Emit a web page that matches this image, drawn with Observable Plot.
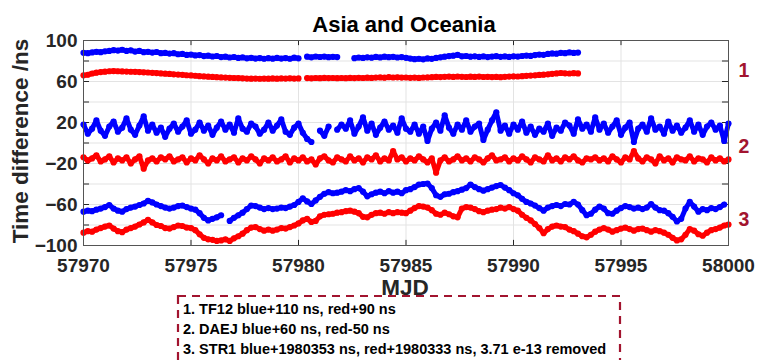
<!DOCTYPE html>
<html>
<head>
<meta charset="utf-8">
<script src="https://cdn.jsdelivr.net/npm/d3@7"></script>
<script src="https://cdn.jsdelivr.net/npm/@observablehq/plot@0.6"></script>
<style>
  html, body { margin: 0; padding: 0; background: #fff; }
  #chart { width: 758px; height: 360px; overflow: hidden; }
</style>
</head>
<body>
<div id="chart"></div>
<script>
// Time-transfer comparison, Asia and Oceania, MJD 57970–58000.
// Samples every 0.2 day starting at MJD 57970; null marks a missing sample.
const mjdStart = 57970;
const mjdStep = 0.2;

const xTickValues = [57970, 57975, 57980, 57985, 57990, 57995, 58000];
const yTickLabels = [-100, -60, -20, 20, 60, 100];
const yTickMarks = [-100, -80, -60, -40, -20, 0, 20, 40, 60, 80, 100];

const titleText = "Asia and Oceania";
const xLabel = "MJD";
const yLabel = "Time difference /ns";
const groupLabels = ["1", "2", "3"];
const noteLines = [
  "1. TF12 blue+110 ns, red+90 ns",
  "2. DAEJ blue+60 ns, red-50 ns",
  "3. STR1 blue+1980353 ns, red+1980333 ns, 3.71 e-13 removed"
];

// 1. TF12 (ends at MJD 57993)
const tf12Blue = [
  88, 87.6, 88.4, 89, 88.6, 89.4,
  89.8, 90.6, 90.2, 91, 89.8,
  90.4, 89.2, 89.8, 88.6, 89,
  88.2, 88.8, 87.6, 87.9, 87.2,
  87.6, 86.6, 86.9, 85.9, 86.3,
  85.4, 85.8, 84.8, 85.2, 84.4,
  84.9, 83.8, 84.2, 83.4, 83.9,
  83, 83.5, 82.6, 83.1, 82.4,
  82.9, 82.2, 82.8, 82.3, 83,
  82.4, 82.9, 82.2, 83.2, 82.6,
  null,
  84.2, 83.6, 84.4, 83.9,
  84.3, 83.7, 84.1, 83.8,
  null, null, null,
  82.8, 83.4, 83,
  83.6, 83.2, 84, 83.5, 84.2,
  83.7, 84.1, 83.4, 83.8, 83.1,
  82.4, 81.8, 82.2, 81.6, 82.5,
  82.1, 83, 83.6, 84.2, 84.8,
  85.2, 86, 84.6, 84.9, 84.2,
  84.6, 84, 84.5, 83.8, 84.3,
  84.7, 84.1, 84.5, 84, 84.6,
  84.3, 84.9, 85.3, 85, 85.8,
  86.3, 86, 86.9, 87.4, 87.1,
  88, 87.6, 88.4, 87.9, 88.2
];
const tf12Red = [
  66, 66.6, 67.8, 68.6, 69.2, 69.6,
  70, 70.2, 70, 69.8, 69.7,
  69.5, 69.4, 69.2, 69, 68.8,
  68.5, 68.2, 67.9, 67.6, 67.4,
  67, 66.8, 66.5, 66.1, 65.9,
  65.6, 65.2, 65, 64.7, 64.5,
  64.2, 64, 63.8, 63.6, 63.4,
  63.3, 63.1, 62.9, 62.8, 62.9,
  62.7, 62.9, 62.8, 63, 62.8,
  63, 62.9, 63.1, 62.9, 63,
  null,
  63.3, 63.1, 63.4, 63.2,
  63.5, 63.3, 63.4, 63.2,
  63.4, 63.2, 63.5,
  63.3, 63.6, 63.4,
  63.7, 63.5, 63.8, 64, 63.7,
  64.2, 63.9, 64.1, 63.8, 63.9,
  63.6, 63.8, 63.5, 63.9, 64,
  64.2, 64.5, 64.3, 64.6, 64.8,
  64.5, 64.9, 64.6, 64.4, 64.7,
  64.5, 64.8, 64.4, 64.6, 64.3,
  64.5, 64.2, 64.6, 64.8, 65,
  64.9, 65.2, 65.5, 65.8, 66,
  66.4, 66.7, 67, 67.5, 67.9,
  68.3, 68, 67.8, 68.1, 67.9
];

// 2. DAEJ
const daejBlue = [
  18, 9, 14, 22, 12, 7, 16, 21, 11, 15,
  24, 13, 8, 17, 26, 12, 18, 10, 15, 6,
  14, 19, 11, 16, 22, 9, 13, 20, 12, 17,
  8, 15, 21, 13, 18, 10, 24, 14, 11, 19,
  16, 9, 13, 20, 12, 17, 23, 11, 8, 15,
  19, 10, 4, 1, null, 12, 7, 16, null, 13,
  18, 14, 22, 9, 16, 25, 12, 19, 8, 15,
  21, 13, 17, 10, 24, 14, 11, 18, 9, 16,
  2, 14, 20, 12, 27, 15, 9, 18, 13, 22,
  11, 16, 19, 3, 13, 22, 30, 12, 17, 9,
  18, 13, 21, 10, 16, 8, 14, 11, 19, 7,
  15, 12, 20, 17, 9, 23, 14, 18, 11, 25,
  13, 19, 10, 16, 22, 8, 15, 20, 1, 14,
  18, 11, 24, 13, 16, 9, 21, 12, 17, 10,
  15, 22, 11, 18, 8, 16, 20, 13, 17, 2, 19
];
const daejRed = [
  -14, -17, -15, -12, -18, -16, -13, -19, -15, -17,
  -14, -20, -16, -13, -25, -17, -15, -18, -14, -16,
  -13, -18, -16, -14, -19, -15, -17, -12, -16, -20,
  -15, -17, -13, -18, -16, -14, -19, -15, -17, -13,
  -16, -20, -15, -17, -14, -18, -16, -13, -19, -15,
  -17, -14, -18, -16, -21, -15, -13, -17, -19, -14,
  -16, -18, -13, -17, -15, -19, -14, -16, -12, -18,
  -15, -17, -8, -16, -14, -18, -15, -17, -13, -16,
  -19, -15, -29, -17, -14, -18, -16, -13, -17, -15,
  -18, -14, -16, -19, -15, -12, -17, -16, -14, -18,
  -15, -17, -13, -16, -19, -14, -16, -18, -12, -17,
  -15, -18, -14, -16, -13, -17, -19, -15, -16, -14,
  -17, -15, -18, -13, -16, -19, -14, -16, -8, -15,
  -18, -14, -16, -20, -13, -17, -15, -19, -14, -16,
  -17, -13, -18, -15, -16, -19, -14, -17, -15, -18, -16
];

// 3. STR1
const str1Blue = [
  -67, -66, -66.5, -65, -64, -62.5, -60.5, -64, -66, -67,
  -64.5, -63, -62, -60.5, -59, -56.5, -58, -60, -61.5, -63,
  -64, -63, -61.5, -61, -62.5, -64, -65, -68.5, -73, -75.5,
  -74, -72.5, -70.5, null, -76, -73, -70.5, -68, -64.5, -61,
  -61.5, -63, -64.5, -63.5, -64.5, -64, -63, -63.5, -62, -60.5,
  -57.5, -54, -57, -59.5, -56, -52.5, -49.5, -48, -49, -48.5,
  -47.5, -46, -47, -45, -44, -47.5, -52, -50, -48.5, -47.5,
  -49, -47, -48.5, -47.5, -49, -46, -45, -43, -40.5, -40,
  -39.5, -44, -51, -52.5, -50, -49.5, -48, -47, -45.5, -44,
  -40.5, -43, -45, -46.5, -45, -43.5, -42, -41, -43.5, -46,
  -49, -51, -54.5, -57.5, -59, -61, -63.5, -66, -63, -61.5,
  -60.5, -61.5, -59.5, -60, -57.5, -60, -65.5, -70.5, -69, -65,
  -62, -64, -68.5, -69, -66, -63.5, -61.5, -62.5, -64, -63,
  -64.5, -63, -59.5, -63, -65.5, -66, -68.5, -72, -76.5, -74,
  -64, -57.5, -62, -67, -64.5, -65.5, -63.5, -64.5, -62.5, -60, null
];
const str1Red = [
  -87.5, -86, -86.5, -84.5, -83, -81.5, -80.5, -83.5, -86, -87,
  -84.5, -83, -81.5, -79.5, -77.5, -75, -77.5, -80, -81, -83,
  -83.5, -82, -80.5, -81, -82.5, -83, -85, -89, -92.5, -94,
  -94.5, -95.5, -95, -94, -95.5, -93, -91, -88.5, -85, -82.5,
  -82, -84, -85.5, -84.5, -85.5, -84.5, -83, -83.5, -82, -80.5,
  -78.5, -75.5, -74, -77, -76, -71.5, -70, -69.5, -69, -68,
  -67.5, -66.5, -66, -67, -68.5, -72, -72.5, -70, -68.5, -68,
  -69, -67.5, -68.5, -67.5, -68, -68.5, -66, -63.5, -61.5, -62,
  -63, -65.5, -69, -70, -68, -69.5, -71.5, -72.5, -64, -62.5,
  -63, -64.5, -66.5, -67.5, -66, -65, -64.5, -63, -64, -62.5,
  -64.5, -66, -70, -73, -75.5, -79, -83, -88, -84, -81.5,
  -80.5, -81.5, -82, -84.5, -86, -88.5, -91, -92, -89.5, -86.5,
  -84.5, -83, -84.5, -86.5, -85, -83.5, -82.5, -84, -85.5, -84,
  -83.5, -85, -86.5, -85, -86, -87.5, -89.5, -92.5, -95, -94,
  -89.5, -84, -85.5, -89, -90.5, -87.5, -85, -84, -82.5, -80.5, -79.5
];

const blue = "#0000ff";
const red = "#ff0000";
const series = [
  {name: "TF12 red", color: red, values: tf12Red},
  {name: "TF12 blue", color: blue, values: tf12Blue},
  {name: "DAEJ red", color: red, values: daejRed},
  {name: "DAEJ blue", color: blue, values: daejBlue},
  {name: "STR1 red", color: red, values: str1Red},
  {name: "STR1 blue", color: blue, values: str1Blue}
];

const rows = series.flatMap(s =>
  s.values.map((v, i) => ({series: s.name, color: s.color, mjd: mjdStart + i * mjdStep, v}))
);
const present = rows.filter(d => d.v != null);

const axisColor = "#262626";
const gridColor = "#e3e3e3";
const fontFamily = "'Liberation Sans', Arial, Helvetica, sans-serif";

const plot = Plot.plot({
  width: 758,
  height: 360,
  marginTop: 40,
  marginLeft: 83,
  marginRight: 30,
  marginBottom: 115,
  style: {fontFamily, background: "#fff", overflow: "visible"},
  x: {domain: [57970, 58000]},
  y: {domain: [-100, 100]},
  color: {type: "identity"},
  marks: [
    Plot.gridX(xTickValues, {stroke: gridColor, strokeOpacity: 1}),
    Plot.gridY(yTickMarks, {stroke: gridColor, strokeOpacity: 1}),
    // inward tick marks on all four sides
    Plot.ruleX(xTickValues, {y1: -100, y2: -95, stroke: axisColor}),
    Plot.ruleX(xTickValues, {y1: 100, y2: 95, stroke: axisColor}),
    Plot.ruleY(yTickMarks, {x1: 57970, x2: 57970.28, stroke: axisColor}),
    Plot.ruleY(yTickMarks, {x1: 58000, x2: 57999.72, stroke: axisColor}),
    // thick connecting trace plus sample markers
    Plot.line(rows, {x: "mjd", y: "v", z: "series", stroke: "color", strokeWidth: 5, strokeLinejoin: "round", strokeLinecap: "round"}),
    Plot.dot(present, {x: "mjd", y: "v", fill: "color", r: 3.1, stroke: null}),
    Plot.frame({stroke: "#555", strokeWidth: 1}),
    Plot.axisX(xTickValues, {
      tickSize: 0, tickPadding: 13, tickFormat: d3.format("d"),
      fontSize: 19, fontWeight: "bold", fill: axisColor, label: null
    }),
    Plot.axisY(yTickLabels, {
      tickSize: 0, tickPadding: 6, tickFormat: d3.format("d"),
      fontSize: 19, fontWeight: "bold", fill: axisColor, label: null
    })
  ]
});

document.getElementById("chart").appendChild(plot);

// titles, axis names, group numbers and the note box
const svg = d3.select(plot);
const g = svg.append("g").attr("font-family", fontFamily).attr("font-weight", "bold");

g.append("text").attr("x", 404).attr("y", 31.5).attr("text-anchor", "middle")
  .attr("font-size", 22).attr("fill", "#000").text(titleText);

g.append("text").attr("x", 405).attr("y", 295).attr("text-anchor", "middle")
  .attr("font-size", 22.5).attr("fill", axisColor).text(xLabel);

g.append("text").attr("transform", "translate(28,141) rotate(-90)").attr("text-anchor", "middle")
  .attr("font-size", 22.5).attr("fill", axisColor).text(yLabel);

const groupY = [77, 153, 226];
groupLabels.forEach((t, i) => {
  g.append("text").attr("x", 744).attr("y", groupY[i]).attr("text-anchor", "middle")
    .attr("font-size", 19.5).attr("fill", "#A2142F").text(t);
});

g.append("rect").attr("x", 178).attr("y", 296).attr("width", 442).attr("height", 80)
  .attr("fill", "none").attr("stroke", "#A2142F").attr("stroke-width", 2.2)
  .attr("stroke-dasharray", "8,6");

const noteY = [313.5, 334, 354];
noteLines.forEach((t, i) => {
  g.append("text").attr("x", 183).attr("y", noteY[i]).attr("text-anchor", "start")
    .attr("font-size", 14.5).attr("fill", "#000").text(t);
});
</script>
</body>
</html>
